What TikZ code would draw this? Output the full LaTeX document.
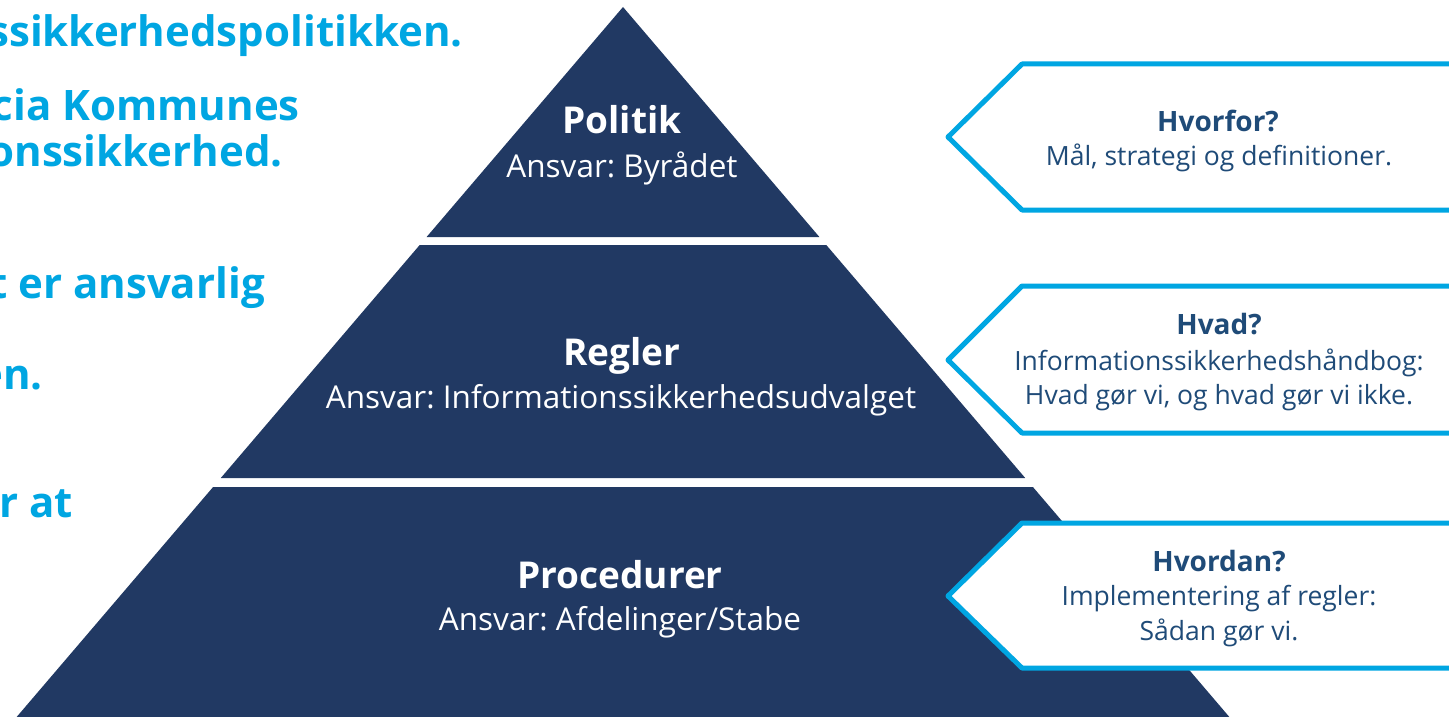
\documentclass[tikz,border=0pt]{standalone}
\usepackage{fontspec}
\setmainfont{Open Sans}
\frenchspacing
\definecolor{navy}{HTML}{213963}
\definecolor{sky}{HTML}{00A6E2}
\definecolor{ink}{HTML}{1F4B78}

\begin{document}
\begin{tikzpicture}
[x=1pt,y=-1pt,%
  every node/.style={inner sep=0pt,anchor=base},
  band/.style={fill=navy},
  tag/.style={draw=sky,line width=5pt,fill=white,line join=round},
  level/.style={text=white,font=\bfseries\fontsize{37}{40}\selectfont},
  resp/.style={text=white,font=\fontsize{31.5}{34}\selectfont},
  ask/.style={text=ink,font=\bfseries\fontsize{28}{30}\selectfont},
  answer/.style={text=ink,font=\fontsize{26.5}{30}\selectfont},
  lead/.style={text=sky,font=\bfseries\fontsize{42}{46}\selectfont,anchor=base east}]
\path[use as bounding box,fill=white] (0,0) rectangle (1449,717);
\clip (0,0) rectangle (1449,717);

% text cut off at the left
\node[lead] (l1) at (463,47) {ssikkerhedspolitikken.};
\node[lead] (l2) at (300,120) {cia Kommunes};
\node[lead] (l3) at (283,166) {onssikkerhed.};
\node[lead] (l4) at (265,298) {t er ansvarlig};
\node[lead] (l5) at (43,389) {en.};
\node[lead] (l6) at (73,517) {r at};

% pyramid
\fill[band] (623,7) -- (819.4,237) -- (426.6,237) -- cycle;
\fill[band] (419.7,245) -- (826.3,245) -- (1025.2,478) -- (220.8,478) -- cycle;
\fill[band] (213.1,487) -- (1032.9,487) -- (1236.2,725) -- (9.8,725) -- cycle;

\node[level] (politik) at (622,133) {Politik};
\node[resp] (byraad) at (622,177) {Ansvar: Byrådet};
\node[level] (regler) at (622,365) {Regler};
\node[resp] (udvalg) at (621,408) {Ansvar: Informationssikkerhedsudvalget};
\node[level] (proc) at (620,588) {Procedurer};
\node[resp] (afd) at (620,630) {Ansvar: Afdelinger/Stabe};

% tags on the right
\draw[tag] (1022,64) -- (948,137) -- (1022,210) -- (1460,210) -- (1460,64) -- cycle;
\draw[tag] (1022,286) -- (948,360) -- (1022,433) -- (1460,433) -- (1460,286) -- cycle;
\draw[tag] (1022,523) -- (948,596) -- (1022,668) -- (1460,668) -- (1460,523) -- cycle;

\node[ask] (hvorfor) at (1218,131) {Hvorfor?};
\node[answer] (maal) at (1219,165) {Mål, strategi og definitioner.};
\node[ask] (hvad) at (1219,334) {Hvad?};
\node[answer] (haandbog) at (1219,370) {Informationssikkerhedshåndbog:};
\node[answer] (goer) at (1219,404) {Hvad gør vi, og hvad gør vi ikke.};
\node[ask] (hvordan) at (1219,571) {Hvordan?};
\node[answer] (impl) at (1219,605) {Implementering af regler:};
\node[answer] (saadan) at (1219,640) {Sådan gør vi.};
\end{tikzpicture}
\end{document}
